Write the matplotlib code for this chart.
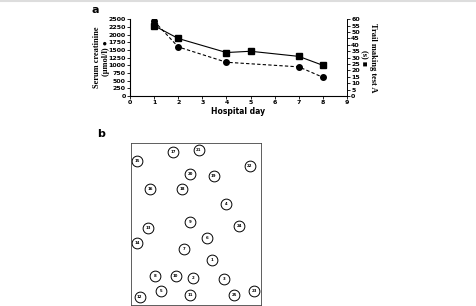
import matplotlib
matplotlib.use("Agg")
import matplotlib.pyplot as plt

# panel a
days_cr = [1, 2, 4, 7, 8]
creatinine = [2440, 1600, 1100, 950, 610]
days_tmt = [1, 2, 4, 5, 7, 8]
tmt = [55, 45, 34, 35, 31, 24]

# panel b - trail making sheet (x, y within the sheet, y downwards)
labels = ["1", "2", "3", "4", "5", "6", "7", "8", "9", "10", "11", "12", "13",
          "14", "15", "16", "17", "18", "19", "20", "21", "22", "23", "24", "25"]
pos_x = [81.3, 62.3, 93.3, 95.3, 30.6, 76.6, 53.6, 24.0, 59.6, 45.0, 59.6, 9.0, 17.3,
         6.6, 6.6, 19.3, 42.6, 51.3, 83.0, 59.6, 68.0, 119.0, 123.3, 108.3, 103.6]
pos_y = [117.0, 135.6, 136.0, 61.6, 148.6, 95.6, 106.3, 133.3, 79.6, 133.6, 152.0, 154.3, 85.3,
         100.3, 18.6, 46.3, 9.0, 46.3, 33.6, 31.6, 7.0, 23.6, 148.6, 83.6, 152.0]

W, H = 477, 306
fig = plt.figure(figsize=(W / 100, H / 100), dpi=100)

ax = fig.add_axes([130 / W, 1 - 96 / H, 217 / W, 76.7 / H])
ax.plot(days_cr, creatinine, "k--", lw=0.8, marker="o", ms=4, dashes=(3, 2))
ax.set_xlim(0, 9)
ax.set_ylim(0, 2500)
ax.set_xticks(range(0, 10))
ax.set_yticks(range(0, 2501, 250))
ax.tick_params(labelsize=4.5, length=2, width=0.6, pad=1)
for lbl in ax.get_yticklabels():
    lbl.set_fontweight("bold")
for lbl in ax.get_xticklabels():
    lbl.set_fontweight("bold")
for s in ["top"]:
    ax.spines[s].set_visible(False)
for s in ["left", "bottom", "right"]:
    ax.spines[s].set_linewidth(0.6)
ax.set_xlabel("Hospital day", fontsize=5.5, fontweight="bold", labelpad=1)
ax.set_ylabel("Serum creatinine\n(μmol/l) ●", fontsize=6, fontweight="bold",
              family="Liberation Serif", labelpad=-1, linespacing=1.1)

ax2 = ax.twinx()
ax2.plot(days_tmt, tmt, "k-", lw=0.8, marker="s", ms=3.8)
ax2.set_ylim(0, 60)
ax2.set_yticks(range(0, 61, 5))
ax2.tick_params(labelsize=4.5, length=2, width=0.6, pad=1)
for lbl in ax2.get_yticklabels():
    lbl.set_fontweight("bold")
ax2.spines["top"].set_visible(False)
ax2.spines["right"].set_linewidth(0.6)
ax2.set_ylabel("Trail making test A\n(s) ■", fontsize=6, fontweight="bold",
               family="Liberation Serif", rotation=270, labelpad=12, linespacing=1.1)

fig.text(95 / W, 1 - 10 / H, "a", fontsize=8, fontweight="bold", ha="center", va="center")
fig.text(100.7 / W, 1 - 134 / H, "b", fontsize=8, fontweight="bold", ha="center", va="center")

# panel b
bx = fig.add_axes([130.7 / W, 1 - 305 / H, 130.6 / W, 162.3 / H])
bx.set_xlim(0, 130.6)
bx.set_ylim(162.3, 0)
bx.set_xticks([])
bx.set_yticks([])
for s in bx.spines.values():
    s.set_linewidth(0.6)
    s.set_color("#444444")
bx.scatter(pos_x, pos_y, s=60, facecolor="white", edgecolor="black", linewidth=0.7, zorder=2)
for t, x, y in zip(labels, pos_x, pos_y):
    bx.text(x, y, t, fontsize=2.8, fontweight="bold", ha="center", va="center", zorder=3)

fig.add_artist(plt.Line2D([0, 1], [0.998, 0.998], color="#dddddd", lw=1.5))

fig.savefig("out.png", dpi=100)
